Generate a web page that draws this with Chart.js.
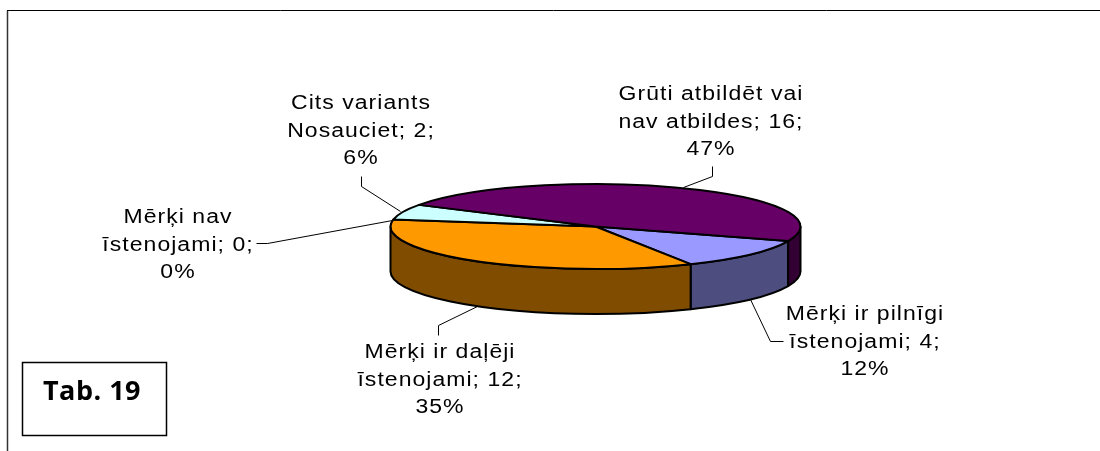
<!DOCTYPE html>
<html><head><meta charset="utf-8">
<style>html,body{margin:0;padding:0;background:#fff}#w{width:1100px;height:451px}canvas{display:block}</style>
<script src="https://cdn.jsdelivr.net/npm/chart.js@4"></script></head>
<body><div id="w"><canvas id="c" width="1100" height="451"></canvas></div>
<script>
const categories = ["Mērķi ir pilnīgi īstenojami","Mērķi ir daļēji īstenojami","Mērķi nav īstenojami","Cits variants Nosauciet","Grūti atbildēt vai nav atbildes"];
const values = [4,12,0,2,16];
const topColors = ["#9999FF","#FF9900","#FFFFFF","#CCFFFF","#660066"];
const sideColors = ["#4D4D80","#804D00","#808080","#668080","#330033"];
const labelLines = [
 ["Mērķi ir pilnīgi","īstenojami; 4;","12%"],
 ["Mērķi ir daļēji","īstenojami; 12;","35%"],
 ["Mērķi nav","īstenojami; 0;","0%"],
 ["Cits variants","Nosauciet; 2;","6%"],
 ["Grūti atbildēt vai","nav atbildes; 16;","47%"]
];
const labelAnchors = [[865,320],[440,358],[178,223],[361,109],[711,100]];
const leaders = [
 [[750,299],[770,341],[783,341]],
 [[477,306],[438,325],[438,335]],
 [[392,220],[267,243],[256,243]],
 [[400,211],[361,186],[361,176]],
 [[683,187],[712,176],[712,166]]
];
const tabText = "Tab. 19";
const CX=595.5, CY=226.5, RY=42.5, DEPTH=45, LH=27.5, TEXT_STRETCH=1.15;

const pie3d = {
 id:'pie3d',
 beforeDatasetDraw(chart){
  const ctx=chart.ctx, arcs=chart.getDatasetMeta(0).data;
  const RX=arcs[0].outerRadius;
  const wall=(a0,a1,col)=>{
    ctx.beginPath();
    ctx.ellipse(CX,CY,RX,RY,0,a0,a1);
    ctx.ellipse(CX,CY+DEPTH,RX,RY,0,a1,a0,true);
    ctx.closePath();
    ctx.fillStyle=col;ctx.fill();ctx.stroke();
  };
  ctx.save();
  ctx.lineWidth=2;ctx.strokeStyle='#000';ctx.lineJoin='round';
  const t=2*Math.PI;
  const norm=a=>((a%t)+t)%t;
  arcs.forEach((arc,i)=>{
    if(arc.circumference===0) return;
    const s=norm(arc.startAngle), e=s+arc.circumference;
    for(const off of [0,t]){
      const a0=Math.max(s,off), a1=Math.min(e,off+Math.PI);
      if(a1>a0) wall(a0,a1,sideColors[i]);
    }
  });
  arcs.forEach((arc,i)=>{
    if(arc.circumference===0) return;
    ctx.beginPath();
    ctx.moveTo(CX,CY);
    ctx.ellipse(CX,CY,RX,RY,0,arc.startAngle,arc.endAngle);
    ctx.closePath();
    ctx.fillStyle=topColors[i];ctx.fill();ctx.stroke();
  });
  ctx.restore();
  return false;
 },
 afterDraw(chart){
  const ctx=chart.ctx;
  ctx.save();
  ctx.strokeStyle='#333';ctx.lineWidth=1.5;
  ctx.beginPath();ctx.moveTo(7.5,451);ctx.lineTo(7.5,10.5);ctx.stroke();
  ctx.strokeStyle='#000';ctx.lineWidth=1;
  ctx.beginPath();ctx.moveTo(7,10.5);ctx.lineTo(1100,10.5);ctx.stroke();
  leaders.forEach(l=>{ctx.beginPath();l.forEach((p,j)=>j?ctx.lineTo(p[0]+.5,p[1]+.5):ctx.moveTo(p[0]+.5,p[1]+.5));ctx.stroke();});
  ctx.fillStyle='#000';ctx.textAlign='center';ctx.textBaseline='alphabetic';
  ctx.font='20px "Liberation Sans"';
  ctx.letterSpacing='0.9px';
  labelLines.forEach((ls,i)=>ls.forEach((s,j)=>{
    ctx.save();
    ctx.translate(labelAnchors[i][0],labelAnchors[i][1]+j*LH);
    ctx.scale(TEXT_STRETCH,1);
    ctx.fillText(s,0,0);
    ctx.restore();
  }));
  ctx.strokeStyle='#000';ctx.lineWidth=1.5;ctx.strokeRect(22.5,362.5,144,73);
  ctx.font='bold 27px "Open Sans"';
  ctx.letterSpacing='0.5px';
  ctx.fillText(tabText,92,400);
  ctx.restore();
 }
};
new Chart(document.getElementById('c'),{
 type:'pie',
 data:{labels:categories,datasets:[{data:values,backgroundColor:topColors,borderWidth:0}]},
 plugins:[pie3d],
 options:{
  responsive:false,animation:false,rotation:110,
  layout:{padding:{top:20,bottom:21,left:385.5,right:299.5}},
  plugins:{legend:{display:false},tooltip:{enabled:false},title:{display:false}}
 }
});
</script></body></html>
